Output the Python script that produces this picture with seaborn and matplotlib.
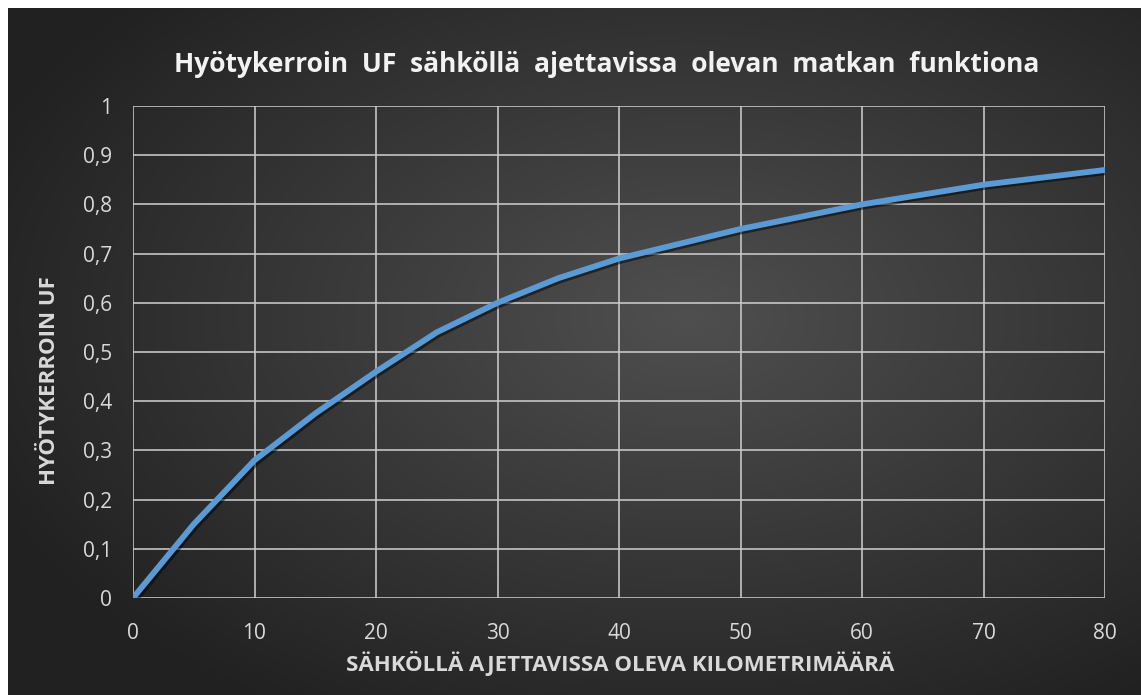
import numpy as np
import pandas as pd
import seaborn as sns
import matplotlib.pyplot as plt
import matplotlib.patheffects as pe

sns.set_theme(style='dark')
plt.rcParams['font.family'] = ['Open Sans', 'DejaVu Sans']

# range driven on electricity (km) vs. utility factor UF
km = [0, 5, 10, 15, 20, 25, 30, 35, 40, 45, 50, 55, 60, 65, 70, 75, 80]
uf = [0, 0.15, 0.28, 0.375, 0.46, 0.54, 0.60, 0.65, 0.69, 0.72, 0.75,
      0.775, 0.80, 0.82, 0.84, 0.855, 0.87]
x_ticks = [0, 10, 20, 30, 40, 50, 60, 70, 80]
y_ticks = [0, 0.1, 0.2, 0.3, 0.4, 0.5, 0.6, 0.7, 0.8, 0.9, 1]
y_labels = ['0', '0,1', '0,2', '0,3', '0,4', '0,5', '0,6', '0,7', '0,8', '0,9', '1']

df = pd.DataFrame({'km': km, 'uf': uf})

W, H = 1141, 695
fig = plt.figure(figsize=(W / 100, H / 100), dpi=100)
fig.patch.set_facecolor('white')

# dark radial background, white strip on top and left
bg = fig.add_axes([8 / W, 0, 1 - 8 / W, (H - 8) / H])
yy, xx = np.mgrid[0:1:400j, 0:1:600j]
r = np.sqrt(((xx - 0.6) / 0.75) ** 2 + ((yy - 0.55) / 0.75) ** 2)
shade = np.clip(0.31 - 0.2 * r, 0.13, 0.31)
bg.imshow(np.dstack([shade] * 3), aspect='auto', extent=[0, 1, 0, 1], origin='lower')
bg.set_axis_off()

ax = fig.add_axes([133 / W, 1 - 598 / H, (1105 - 133) / W, (598 - 106) / H])
ax.patch.set_alpha(0)
sns.lineplot(data=df, x='km', y='uf', ax=ax, color='#5b9bd5', linewidth=4.2,
             path_effects=[pe.SimpleLineShadow(offset=(1.5, -1.5), shadow_color='black', alpha=0.5),
                           pe.Normal()], zorder=5)

ax.set_xlim(0, 80)
ax.set_ylim(0, 1)
ax.set_xticks(x_ticks)
ax.set_xticklabels([str(t) for t in x_ticks])
ax.set_yticks(y_ticks)
ax.set_yticklabels(y_labels)
ax.grid(True, color='#c8c8c8', linewidth=1.3, alpha=0.9)
for s in ax.spines.values():
    s.set_visible(False)
ax.tick_params(axis='both', colors='#d9d9d9', labelsize=15, length=0)
ax.tick_params(axis='x', pad=18)
ax.tick_params(axis='y', pad=15)

ax.set_xlabel('SÄHKÖLLÄ AJETTAVISSA OLEVA KILOMETRIMÄÄRÄ', color='#d9d9d9',
              fontsize=16, fontweight='bold')
ax.set_ylabel('HYÖTYKERROIN UF', color='#d9d9d9', fontsize=16,
              fontweight='bold')
ax.xaxis.set_label_coords((620 - 133) / (1105 - 133), -(664 - 598) / (598 - 106))
ax.yaxis.set_label_coords(-(133 - 50) / (1105 - 133), (598 - 381) / (598 - 106))
ax.xaxis.label.set_va('center')
ax.yaxis.label.set_va('center')

fig.text(607 / W, 1 - 65 / H, 'Hyötykerroin  UF  sähköllä  ajettavissa  olevan  matkan  funktiona',
         color='#f2f2f2', fontsize=19, fontweight='bold', ha='center', va='center')

fig.savefig('out.png', dpi=100, facecolor=fig.get_facecolor())
